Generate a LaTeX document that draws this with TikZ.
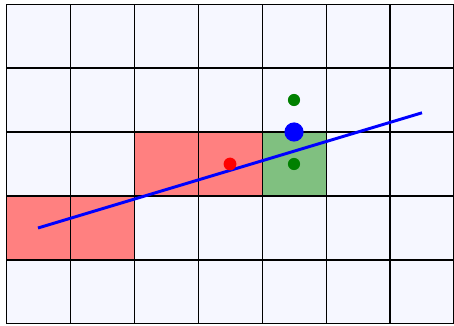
\documentclass[tikz,border=0pt]{standalone}
\usepackage{tikz}
\definecolor{gridBg}{RGB}{246,247,255}
\definecolor{cellRed}{RGB}{255,128,128}
\definecolor{cellGreen}{RGB}{128,192,128}
\definecolor{rayBlue}{RGB}{0,0,255}
\definecolor{dotGreen}{RGB}{0,128,0}

\begin{document}
\begin{tikzpicture}[x=1cm, y=1cm,
  gridline/.style={draw=black, line width=0.45pt},
  ray/.style={draw=rayBlue, line width=1.3pt},
  dot/.style={circle, inner sep=0pt, minimum size=#1},
  hit/.style={dot=0.2cm, fill=red},
  probe/.style={dot=0.19cm, fill=dotGreen},
  pick/.style={dot=0.3cm, fill=rayBlue}]
\useasboundingbox (-0.094,-0.016) rectangle (7,5.0625);
% background and visited cells
\fill[gridBg] (0,0) rectangle (7,5);
\fill[cellRed] (0,1) rectangle (2,2);
\fill[cellRed] (2,2) rectangle (4,3);
\fill[cellGreen] (4,2) rectangle (5,3);
\draw[gridline] (0,0) grid (7,5);
% the line
\coordinate (start) at (0.5,1.5);
\coordinate (end) at (6.5,3.3);
\draw[ray] (start) -- (end);
% sample points
\node[hit] (cur) at (3.5,2.5) {};
\node[probe] (up) at (4.5,3.5) {};
\node[probe] (right) at (4.5,2.5) {};
\node[pick] (mid) at (4.5,3) {};
\end{tikzpicture}
\end{document}
